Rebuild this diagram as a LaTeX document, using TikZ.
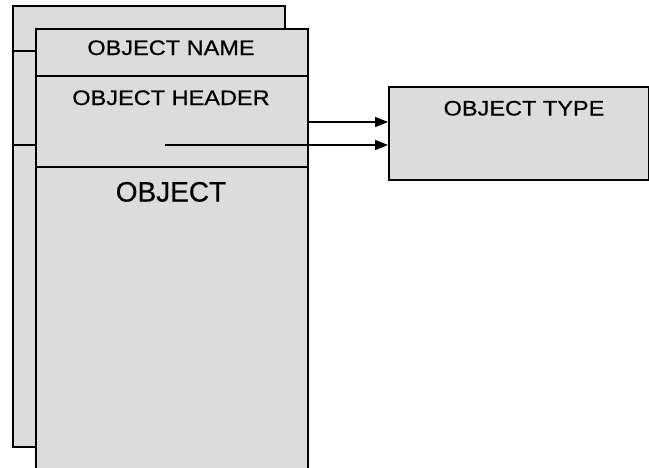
\documentclass[tikz,border=0pt]{standalone}
\usepackage{fontspec}
\setmainfont{Liberation Sans}
\newfontfamily\labelfont[FakeStretch=1.12,FakeBold=0.6]{Liberation Sans}
\newfontfamily\bigfont[FakeBold=0.6]{Liberation Sans}
\usetikzlibrary{positioning}
\usetikzlibrary{arrows.meta}
\definecolor{boxgray}{RGB}{220,220,220}
\tikzstyle{objbox}=[rectangle,draw,fill=boxgray,line width=1.6pt,inner sep=0pt,anchor=north west]
\tikzstyle{divider}=[draw,line width=1.2pt]
\tikzstyle{edge}=[draw,line width=1.5pt,-{Triangle[length=13pt,width=10pt]}]
\tikzstyle{boxlabel}=[font=\labelfont\fontsize{21}{21}\selectfont,anchor=base,inner sep=0pt]

\begin{document}
\begin{tikzpicture}[x=1pt,y=-1pt]
    \useasboundingbox (0,0) rectangle (649,467);

    \node[objbox,minimum width=272pt,minimum height=441pt] (back) at (12,5) {};
    \node[objbox,minimum width=272pt,minimum height=452pt] (front) at (35,28) {};
    \node[objbox,minimum width=260pt,minimum height=93pt] (type) at (388,86) {};

    \foreach \y in {51,145}
        \path[divider] (back.west |- 0,\y) -- (front.west |- 0,\y);
    \foreach \y in {76,167}
        \path[divider] (front.west |- 0,\y) -- (front.east |- 0,\y);

    \node[boxlabel] (name) at (171,55) {OBJECT NAME};
    \node[boxlabel] (header) at (171,105) {OBJECT HEADER};
    \node[boxlabel,font=\bigfont\fontsize{28}{28}\selectfont] (object) at (171,201.5) {OBJECT};
    \node[boxlabel] (typename) at (524,115.5) {OBJECT TYPE};

    \coordinate (hdr1) at (front.east |- 0,122);
    \coordinate (hdr2) at (165,145);
    \foreach \source in {hdr1,hdr2}
        \path[edge] (\source) -- (type.west |- \source);
\end{tikzpicture}
\end{document}
